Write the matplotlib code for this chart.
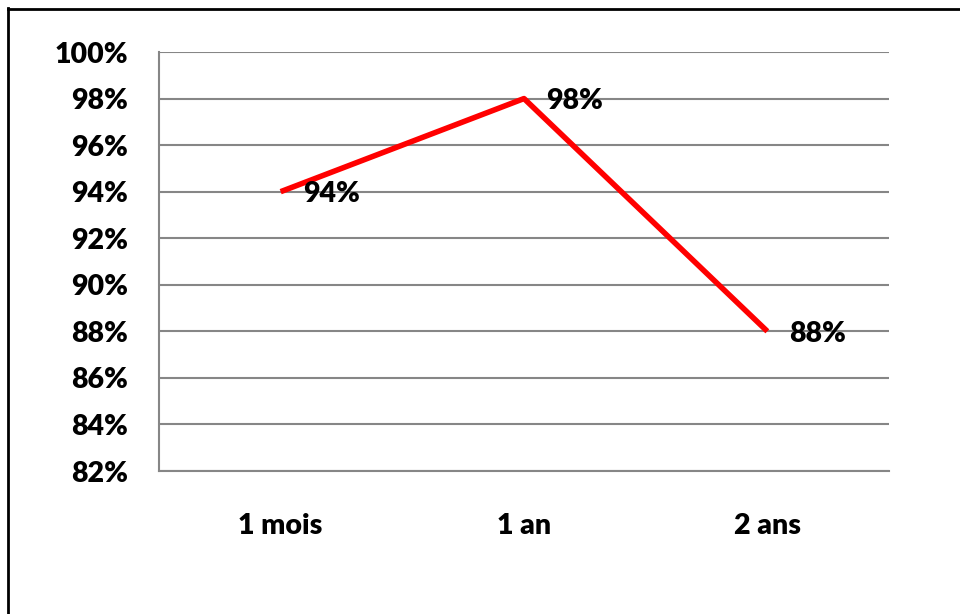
import matplotlib
matplotlib.use("Agg")
import matplotlib.pyplot as plt
from matplotlib.lines import Line2D

categories = ["1 mois", "1 an", "2 ans"]
values = [94, 98, 88]
y_ticks = [82, 84, 86, 88, 90, 92, 94, 96, 98, 100]
y_labels = [f"{v}%" for v in y_ticks]

W, H = 960, 614
fig = plt.figure(figsize=(W / 100, H / 100), dpi=100)
fig.patch.set_facecolor("white")

ax = fig.add_axes([159 / W, 1 - 471 / H, (889 - 159) / W, (471 - 52) / H])

font = dict(family=["Lato", "DejaVu Sans"], weight="heavy", size=20.5)

x = list(range(len(categories)))
ax.plot(x, values, color="#ff0000", lw=4, solid_capstyle="butt", zorder=3)

for xi, v in zip(x, values):
    ax.annotate(f"{v}%", (xi, v), xytext=(16, -2), textcoords="offset points",
                ha="left", va="center", color="black", zorder=4, **font)

ax.set_xlim(-0.5, len(categories) - 0.5)
ax.set_ylim(82, 100)
ax.set_yticks(y_ticks)
ax.set_yticklabels(y_labels, **font)
ax.set_xticks(x)
ax.set_xticklabels(categories, **font)

ax.grid(axis="y", color="#868686", lw=1.5, zorder=1)
ax.set_axisbelow(True)
for side in ("top", "right"):
    ax.spines[side].set_visible(False)
for side in ("left", "bottom"):
    ax.spines[side].set_color("#868686")
    ax.spines[side].set_linewidth(1.5)
ax.tick_params(axis="y", length=0, pad=22)
ax.tick_params(axis="x", length=0, pad=30)

# outer chart frame (top and left edges)
fig.add_artist(Line2D([8 / W, 8 / W], [1 - 8 / H, 0], transform=fig.transFigure,
                      color="black", lw=2))
fig.add_artist(Line2D([8 / W, 1], [1 - 9 / H, 1 - 9 / H], transform=fig.transFigure,
                      color="black", lw=2))

fig.savefig("out.png", dpi=100, facecolor="white")
